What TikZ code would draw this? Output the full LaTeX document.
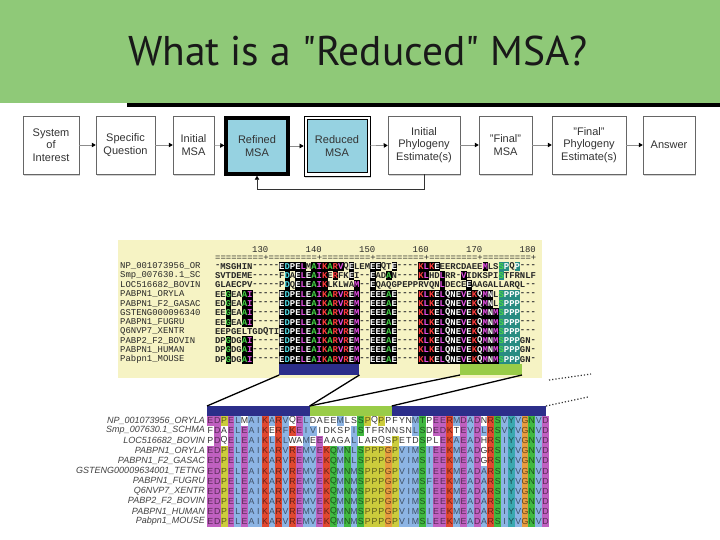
\documentclass[tikz,border=0pt]{standalone}
\usepackage{fontspec}
\setmainfont{Liberation Sans}
\newfontfamily\titlefont{PT Sans}
\newfontfamily\monofont{Liberation Mono}
\newfontfamily\alnfont{Liberation Sans}
\usetikzlibrary{arrows.meta,shadows}

\definecolor{hdr}{RGB}{143,201,120}
\definecolor{boxblue}{RGB}{150,210,225}
\definecolor{beige}{RGB}{246,243,196}
\definecolor{barblue}{RGB}{44,46,138}
\definecolor{bargreen}{RGB}{153,204,72}
\definecolor{acid}{RGB}{192,96,192}
\definecolor{hyd}{RGB}{140,180,228}
\definecolor{bas}{RGB}{224,72,48}
\definecolor{pol}{RGB}{64,184,64}
\definecolor{pro}{RGB}{204,204,60}
\definecolor{gly}{RGB}{232,156,64}
\definecolor{aro}{RGB}{58,168,176}
\definecolor{ured}{RGB}{255,60,60}
\definecolor{umag}{RGB}{230,80,230}
\definecolor{ugrn}{RGB}{70,210,70}
\definecolor{ucyn}{RGB}{80,220,230}
\definecolor{uteal}{RGB}{40,140,130}

% residue groups (lower alignment)
\def\setg#1#2{\expandafter\def\csname g@#1\endcsname{#2}}
\setg{E}{acid}\setg{D}{acid}\setg{K}{bas}\setg{R}{bas}
\setg{A}{hyd}\setg{I}{hyd}\setg{L}{hyd}\setg{M}{hyd}\setg{V}{hyd}
\setg{F}{hyd}\setg{W}{hyd}\setg{C}{hyd}
\setg{Q}{pol}\setg{N}{pol}\setg{S}{pol}\setg{T}{pol}
\setg{P}{pro}\setg{G}{gly}\setg{Y}{aro}\setg{H}{aro}\setg{-}{gap}
% letter colours (upper alignment)
\def\setu#1#2{\expandafter\def\csname ul@#1\endcsname{#2}}
\setu{E}{white}\setu{P}{white}\setu{Q}{white}\setu{N}{white}\setu{T}{white}\setu{H}{white}
\setu{D}{ucyn}\setu{Y}{ucyn}
\setu{K}{ured}\setu{R}{ured}
\setu{L}{umag}\setu{I}{umag}\setu{V}{umag}\setu{M}{umag}\setu{F}{umag}\setu{C}{umag}\setu{W}{umag}
\setu{A}{ugrn}\setu{G}{ugrn}\setu{S}{ugrn}

\newcount\colidx
\def\storecons#1#2{\colidx=0 \def\consprefix{#1}\storeconsA#2\relax}
\def\storeconsA#1{\ifx#1\relax\else\advance\colidx by 1
  \expandafter\edef\csname\consprefix\the\colidx\endcsname{#1}\expandafter\storeconsA\fi}
\def\walkrow#1#2{\colidx=0 \let\cellcmd#1\expandafter\walkA#2\relax}
\def\walkA#1{\ifx#1\relax\else\cellcmd{#1}\expandafter\walkA\fi}

\def\uxo{215}\def\uw{5.35}\def\uyo{261.7}\def\uh{9.3}
\def\lxo{207}\def\lw{6.84}\def\lyo{415.5}\def\lh{10.1}

\storecons{lc@}{EDPELEAIKARVREMVEKQMNMSPPPGPVIMSIEEKMEADARSIYVGNVD}
\storecons{uc@}{--G--AI-----EDPELEAIKARVREM--EEEAE----KLKELQNEVEKQMNMSPPP---}

\def\lcell#1{%
  \advance\colidx by 1
  \edef\co{\csname lc@\the\colidx\endcsname}%
  \edef\ga{\csname g@#1\endcsname}%
  \edef\gb{\csname g@\co\endcsname}%
  \ifx\ga\gb
    \fill[\ga] ({\lxo+(\the\colidx-1)*\lw},\ry) rectangle ++(\lw+0.15,\lh+0.15);
    \node[lres,text=\ga!45!black] at ({\lxo+(\the\colidx-0.5)*\lw},{\ry+\lh/2}) {#1};
  \else
    \node[lres,text=black!80] at ({\lxo+(\the\colidx-0.5)*\lw},{\ry+\lh/2}) {#1};
  \fi}

\def\ucell#1{%
  \advance\colidx by 1
  \edef\co{\csname uc@\the\colidx\endcsname}%
  \def\cur{#1}%
  \if-#1%
    \node[ures,text=black!80] at ({\uxo+(\the\colidx-0.5)*\uw},{\ry+\uh/2}) {-};
  \else
    \ifx\cur\co
      \def\hbg{black}%
      \ifnum\colidx>53 \ifnum\colidx<58 \def\hbg{uteal}\fi\fi
      \edef\lc{\csname ul@#1\endcsname}%
      \fill[\hbg] ({\uxo+(\the\colidx-1)*\uw},\ry) rectangle ++(\uw+0.15,\uh+0.15);
      \node[ures,text=\lc] at ({\uxo+(\the\colidx-0.5)*\uw},{\ry+\uh/2}) {#1};
    \else
      \node[ures,text=black!85] at ({\uxo+(\the\colidx-0.5)*\uw},{\ry+\uh/2}) {#1};
    \fi
  \fi}

\tikzset{
  fbox/.style={draw=black!60, line width=0.5pt, fill=white, align=center, text=black!80,
    font=\fontsize{11}{12.5}\selectfont, minimum height=58pt, inner sep=1pt,
    drop shadow={shadow xshift=1.2pt, shadow yshift=-2.2pt, opacity=0.35}},
  btext/.style={align=center, text=black!80, font=\fontsize{11}{12.5}\selectfont, inner sep=1pt},
  flow/.style={draw=black!45, line width=0.6pt, -{Triangle[length=4pt,width=4.5pt,color=black]}},
  fback/.style={draw=black!80, line width=0.6pt, -{Triangle[length=4pt,width=4.5pt,color=black]}},
  lres/.style={inner sep=0pt, font=\alnfont\fontsize{8.8}{9}\selectfont},
  ures/.style={inner sep=0pt, font=\monofont\bfseries\fontsize{8.92}{10}\selectfont},
  utxt/.style={inner sep=0pt, anchor=west, text=black!85, font=\monofont\fontsize{8.92}{10}\selectfont},
  lname/.style={inner sep=0pt, anchor=east, text=black!75, font=\alnfont\itshape\fontsize{9}{10}\selectfont},
  zline/.style={draw=black, line width=1.3pt},
  zdot/.style={draw=black!80, line width=1.2pt, dotted},
}

\begin{document}
\begin{tikzpicture}[x=1pt,y=-1pt]
\useasboundingbox (0,0) rectangle (720,540);
\fill[white] (0,0) rectangle (720,540);
% header
\fill[hdr] (0,0) rectangle (720,103);
\fill[black] (127,103) rectangle (720,107);
\node[inner sep=0pt, text=black!90, font=\titlefont\fontsize{41.5}{48}\selectfont] (title) at (358,51) {What is a \char34Reduced\char34{} MSA?};

% flow boxes
\node[fbox, minimum width=56pt] (b1) at (51,145) {System\\of\\Interest};
\node[fbox, minimum width=59pt] (b2) at (125.5,145) {Specific\\Question};
\node[fbox, minimum width=41pt] (b3) at (193.5,145) {Initial\\MSA};
\node[fbox, draw=black, line width=3.5pt, fill=boxblue, minimum width=62pt, minimum height=56pt] (b4) at (257,146) {Refined\\MSA};
\node[fbox, draw=black, line width=0.7pt, minimum width=66pt, minimum height=60pt] (b5) at (337,146) {};
\draw[black, line width=0.7pt, fill=boxblue] ([shift={(3.5,3.5)}]b5.north west) rectangle ([shift={(-3.5,-3.5)}]b5.south east);
\node[btext] (b5t) at (b5.center) {Reduced\\MSA};
\node[fbox, minimum width=72pt] (b6) at (424,145) {Initial\\Phylogeny\\Estimate(s)};
\node[fbox, minimum width=53pt] (b7) at (505.5,145) {\char34Final\char34\\MSA};
\node[fbox, minimum width=74pt] (b8) at (589,145) {\char34Final\char34\\Phylogeny\\Estimate(s)};
\node[fbox, minimum width=52pt] (b9) at (669,145) {Answer};
\draw[flow] (b1) -- (b2);
\draw[flow] (b2) -- (b3);
\draw[flow] (b3) -- (b4);
\draw[flow] (b4) -- (b5);
\draw[flow] (b5) -- (b6);
\draw[flow] (b6) -- (b7);
\draw[flow] (b7) -- (b8);
\draw[flow] (b8) -- (b9);
\draw[fback] (b6.south) -- ++(0,15) -| (b4.south);

% upper alignment
\fill[beige] (118,240) rectangle (542,378);
\foreach \k/\lab in {1/130,2/140,3/150,4/160,5/170,6/180}
  \node[inner sep=0pt, anchor=south east, text=black!85, font=\monofont\fontsize{8.92}{10}\selectfont] at ({\uxo+10*\k*\uw},253) {\lab};
\node[utxt] (ruler) at (\uxo,257.5) {=========+=========+=========+=========+=========+=========+};
\foreach \nm/\s [count=\i from 0] in {
NP\_001073956\_OR/-MSGHIN-----EDPELMAIKARVQELEMEEQTE----KLKEEERCDAEEMLSSPQP---,
Smp\_007630.1\_SC/SVTDEME-----FDAELEAIKERFKEI--EADAN----KLHDLRR-VIDKSPISTFRNLF,
LOC516682\_BOVIN/GLAECPV-----PDQELEAIKLKLWAM--EQAQGPEPPRVQNLDECEEAAGALLARQL--,
PABPN1\_ORYLA/EEGEAAI-----EDPELEAIKARVREM--EEEAE----KLKELQNEVEKQMNLSPPP---,
PABPN1\_F2\_GASAC/EDGEAAI-----EDPELEAIKARVREM--EEEAE----KLKELQNEVEKQMNLSPPP---,
GSTENG000096340/EEGEAAI-----EDPELEAIKARVREM--EEEAE----KLKELQNEVEKQMNMSPPP---,
PABPN1\_FUGRU/EEGEAAI-----EDPELEAIKARVREM--EEEAE----KLKELQNEVEKQMNMSPPP---,
Q6NVP7\_XENTR/EEPGELTGDQTIEDPELEAIKARVREM--EEEAE----KLKELQNEVEKQMNMSPPP---,
PABP2\_F2\_BOVIN/DPGDGAI-----EDPELEAIKARVREM--EEEAE----KLKELQNEVEKQMNMSPPPGN-,
PABPN1\_HUMAN/DPGDGAI-----EDPELEAIKARVREM--EEEAE----KLKELQNEVEKQMNMSPPPGN-,
Pabpn1\_MOUSE/DPGDGAI-----EDPELEAIKARVREM--EEEAE----KLKELQNEVEKQMNMSPPPGN-}{
  \pgfmathsetmacro\ry{\uyo+\i*\uh}
  \node[utxt] at (120,{\ry+\uh/2}) {\nm};
  \walkrow\ucell{\s}
}
\fill[barblue] ({\uxo+12*\uw},364) rectangle ({\uxo+27*\uw},375);
\fill[bargreen] (460,364) rectangle (522,375);
\coordinate (uBL) at ({\uxo+12*\uw},375);
\coordinate (uBR) at ({\uxo+27*\uw},375);
\coordinate (uGL) at (460,375);
\coordinate (uGR) at (522,375);

% lower alignment
\foreach \nm/\s [count=\i from 0] in {
NP\_001073956\_ORYLA/EDPELMAIKARVQELDAEEMLSSPQPPFYNMTPEERMDADNRSVYVGNVD,
Smp\_007630.1\_SCHMA/FDAELEAIKERFKEIVIDKSPISTFRNNSNLSDEDKTEVDLRSVYVGNVD,
LOC516682\_BOVIN/PDQELEAIKLKLWAMEEAAGALLARQSPETDSPLEKAEADHRSIYVGNVD,
PABPN1\_ORYLA/EDPELEAIKARVREMVEKQMNLSPPPGPVIMSIEEKMEADGRSIYVGNVD,
PABPN1\_F2\_GASAC/EDPELEAIKARVREMVEKQMNLSPPPGPVIMSIEEKMEADGRSIYVGNVD,
GSTENG00009634001\_TETNG/EDPELEAIKARVREMVEKQMNMSPPPGPVIMSIEEKMEADARSIYVGNVD,
PABPN1\_FUGRU/EDPELEAIKARVREMVEKQMNMSPPPGPVIMSFEEKMEADARSIYVGNVD,
Q6NVP7\_XENTR/EDPELEAIKARVREMVEKQMNMSPPPGPVIMSIEEKMEADARSIYVGNVD,
PABP2\_F2\_BOVIN/EDPELEAIKARVREMVEKQMNMSPPPGPVIMSIEEKMEADARSIYVGNVD,
PABPN1\_HUMAN/EDPELEAIKARVREMVEKQMNMSPPPGPVIMSIEEKMEADARSIYVGNVD,
Pabpn1\_MOUSE/EDPELEAIKARVREMVEKQMNMSPPPGPVIMSLEEKMEADARSIYVGNVD}{
  \pgfmathsetmacro\ry{\lyo+\i*\lh}
  \node[lname] at (205,{\ry+\lh/2}) {\nm};
  \walkrow\lcell{\s}
}
\fill[barblue] (\lxo,406) rectangle ({\lxo+15*\lw},415.5);
\fill[bargreen] ({\lxo+15*\lw},406) rectangle ({\lxo+27*\lw},415.5);
\fill[barblue] ({\lxo+27*\lw},406) rectangle (546,415.5);
\coordinate (lBL) at (\lxo,406);
\coordinate (lGL) at ({\lxo+15*\lw},406);
\coordinate (lGR) at ({\lxo+27*\lw},406);
\coordinate (lBR) at (546,406);
\coordinate (dotA) at (588,397);
\coordinate (dotB1) at (549,380);
\coordinate (dotB2) at (591,374);

% zoom connectors
\draw[zline] (uBL) -- (lBL);
\draw[zline] (uBR) -- (lGL);
\draw[zline] (uGL) -- (lGL);
\draw[zline] (uGR) -- (lGR);
\draw[zdot] (lBR) -- (dotA);
\draw[zdot] (dotB1) -- (dotB2);
\end{tikzpicture}
\end{document}
